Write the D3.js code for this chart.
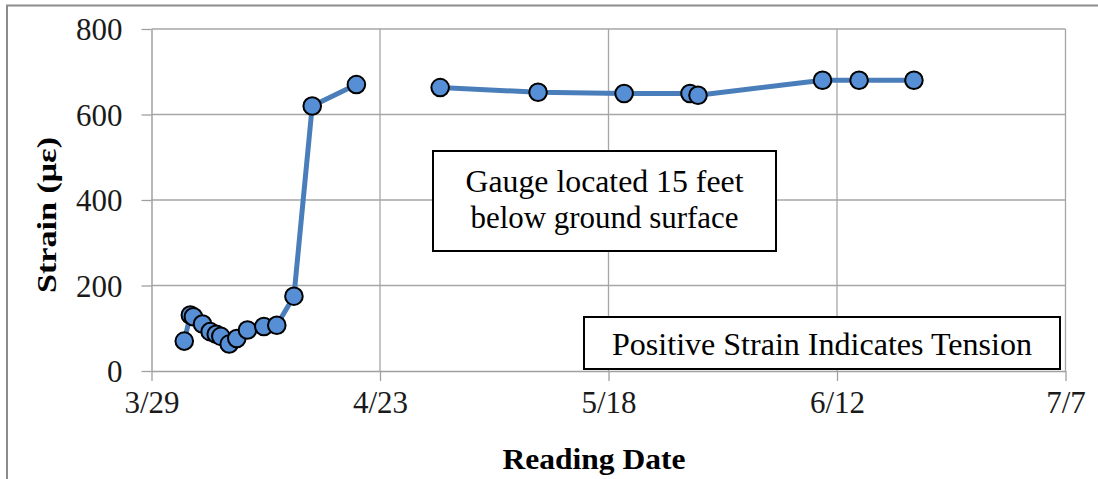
<!DOCTYPE html>
<html>
<head>
<meta charset="utf-8">
<script src="https://cdn.jsdelivr.net/npm/d3@7"></script>
<style>
  html, body { margin: 0; padding: 0; background: #fff; }
  svg { display: block; }
</style>
</head>
<body>
<svg id="chart" width="1098" height="479" font-family="'Liberation Serif', 'Times New Roman', serif"></svg>
<script>
// ---- data ----
const readingDates = [
  "2010-04-01T14:00", "2010-04-02T06:00", "2010-04-02T14:00", "2010-04-03T14:00",
  "2010-04-04T10:00", "2010-04-05T02:00", "2010-04-05T14:00", "2010-04-06T12:00",
  "2010-04-07T08:00", "2010-04-08T12:00", "2010-04-10T07:00", "2010-04-11T17:00",
  "2010-04-13T14:00", "2010-04-15T14:00", "2010-04-20T10:00", "2010-04-25T00:00",
  "2010-04-29T14:00", "2010-05-10T07:00", "2010-05-19T17:00", "2010-05-26T22:00",
  "2010-05-27T19:00", "2010-06-10T10:00", "2010-06-14T10:00", "2010-06-20T10:00"
];
const strainValues = [
  70, 131, 127, 110,
  92, 86, 81, 63,
  76, 96, 104, 107,
  175, 620, 670, null,
  663, 652, 649, 649,
  645, 680, 680, 680
];
const xTickLabels = ["2010-03-29", "2010-04-23", "2010-05-18", "2010-06-12", "2010-07-07"];
const yTickValues = [0, 200, 400, 600, 800];
const noteTop = ["Gauge located 15 feet", "below ground surface"];
const noteBottom = "Positive Strain Indicates Tension";
const xTitle = "Reading Date";
const yTitle = "Strain (\u03bc\u03b5)";

// ---- setup ----
const FONT = "'Liberation Serif', 'Times New Roman', serif";
const parseDT = d3.timeParse("%Y-%m-%dT%H:%M");
const parseD = d3.timeParse("%Y-%m-%d");
const data = readingDates.map((d, i) => ({ date: parseDT(d), v: strainValues[i] }));
const xTicks = xTickLabels.map(parseD);

const svg = d3.select("#chart");
const plotL = 151.5, plotR = 1065.5, plotT = 29, plotB = 371;

const x = d3.scaleTime().domain([xTicks[0], xTicks[xTicks.length - 1]]).range([plotL, plotR]);
const y = d3.scaleLinear().domain([0, 800]).range([plotB, plotT]);

// outer frame (top & left)
svg.append("path")
  .attr("d", "M7,479 L7,5.5 L1098,5.5")
  .attr("fill", "none").attr("stroke", "#8c8c8c").attr("stroke-width", 2);

// gridlines
const grid = svg.append("g").attr("stroke", "#a6a6a6").attr("stroke-width", 1.3);
grid.selectAll("line.h").data(yTickValues.filter(v => v > 0)).join("line")
  .attr("x1", plotL).attr("x2", plotR)
  .attr("y1", d => y(d)).attr("y2", d => y(d));
grid.selectAll("line.v").data(xTicks.slice(1)).join("line")
  .attr("x1", d => x(d)).attr("x2", d => x(d))
  .attr("y1", plotT).attr("y2", plotB);

// axes
const yAxis = svg.append("g").attr("transform", `translate(${plotL},0)`)
  .call(d3.axisLeft(y).tickValues(yTickValues).tickSizeInner(10).tickSizeOuter(0).tickPadding(19));
const xAxis = svg.append("g").attr("transform", `translate(0,${plotB})`)
  .call(d3.axisBottom(x).tickValues(xTicks).tickFormat(d3.timeFormat("%-m/%-d")).tickSizeInner(10).tickSizeOuter(0));

[yAxis, xAxis].forEach(a => {
  a.attr("font-family", FONT).attr("font-size", 31);
  a.select(".domain").attr("stroke", "#a0a0a0").attr("stroke-width", 1.5);
  a.selectAll(".tick line").attr("stroke", "#a0a0a0").attr("stroke-width", 1.3);
  a.selectAll(".tick text").attr("fill", "#1a1a1a");
});
yAxis.selectAll(".tick text").attr("dy", "0.34em");
xAxis.selectAll(".tick text").attr("y", 42).attr("dy", 0);

// series line
const line = d3.line().defined(d => d.v != null).x(d => x(d.date)).y(d => y(d.v));
svg.append("path").datum(data).attr("d", line)
  .attr("fill", "none").attr("stroke", "#4a7ebb").attr("stroke-width", 5)
  .attr("stroke-linejoin", "round");

// markers
svg.append("g").selectAll("circle").data(data.filter(d => d.v != null)).join("circle")
  .attr("cx", d => x(d.date)).attr("cy", d => y(d.v)).attr("r", 8.8)
  .attr("fill", "#568fd6").attr("stroke", "#000").attr("stroke-width", 2);

// annotation boxes
const box1 = svg.append("g");
box1.append("rect").attr("x", 433).attr("y", 151).attr("width", 343).attr("height", 100)
  .attr("fill", "#fff").attr("stroke", "#000").attr("stroke-width", 2);
box1.selectAll("text").data(noteTop).join("text")
  .attr("x", 604.5).attr("y", (d, i) => 192 + i * 36)
  .attr("text-anchor", "middle").attr("font-family", FONT).attr("font-size", 31).attr("fill", "#000")
  .attr("textLength", (d, i) => [278, 268][i]).attr("lengthAdjust", "spacingAndGlyphs")
  .text(d => d);

const box2 = svg.append("g");
box2.append("rect").attr("x", 584).attr("y", 317).attr("width", 476).attr("height", 52)
  .attr("fill", "#fff").attr("stroke", "#000").attr("stroke-width", 2);
box2.append("text").attr("x", 822).attr("y", 355)
  .attr("text-anchor", "middle").attr("font-family", FONT).attr("font-size", 31).attr("fill", "#000")
  .attr("textLength", 420).attr("lengthAdjust", "spacingAndGlyphs")
  .text(noteBottom);

// axis titles
svg.append("text").attr("x", 594).attr("y", 469)
  .attr("text-anchor", "middle").attr("font-family", FONT).attr("font-size", 29).attr("font-weight", "bold")
  .attr("textLength", 183).attr("lengthAdjust", "spacingAndGlyphs")
  .text(xTitle);
svg.append("text").attr("transform", "translate(56,215) rotate(-90)")
  .attr("text-anchor", "middle").attr("font-family", FONT).attr("font-size", 27).attr("font-weight", "bold")
  .attr("textLength", 156).attr("lengthAdjust", "spacingAndGlyphs")
  .text(yTitle);
</script>
</body>
</html>
